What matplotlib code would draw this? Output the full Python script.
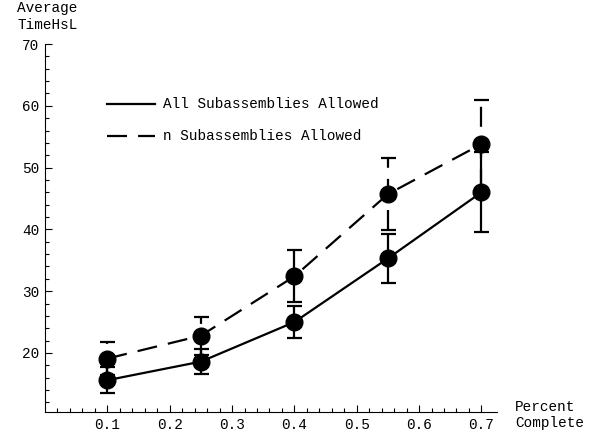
import numpy as np
import matplotlib
matplotlib.use("Agg")
import matplotlib.pyplot as plt

plt.rcParams['font.family'] = ['Liberation Mono', 'DejaVu Sans Mono']
plt.rcParams['font.size'] = 10.4

# data
pct = [0.1, 0.25, 0.4, 0.55, 0.7]
all_mean = [15.6, 18.6, 25.0, 35.3, 46.0]
all_err = [2.1, 2.0, 2.6, 4.0, 6.5]
n_mean = [19.1, 22.8, 32.4, 45.7, 53.8]
n_err = [2.7, 3.1, 4.2, 5.8, 7.2]
labels = ['All Subassemblies Allowed', 'n Subassemblies Allowed']

fig = plt.figure(figsize=(5.95, 4.32), dpi=100)
ax = fig.add_axes([45/595, 1-412/432, (497-45)/595, (412-44)/432])

dash = (0, (9, 5))

# solid series
ax.plot(pct, all_mean, color='black', lw=1.6, zorder=2)
eb1 = ax.errorbar(pct, all_mean, yerr=all_err, fmt='none', ecolor='black',
                  elinewidth=1.6, capsize=5.4, capthick=1.6, zorder=2)

# dashed series
ax.plot(pct, n_mean, color='black', lw=1.6, ls=dash, zorder=2)
eb2 = ax.errorbar(pct, n_mean, yerr=n_err, fmt='none', ecolor='black',
                  elinewidth=1.6, capsize=5.4, capthick=1.6, zorder=2)
eb2[2][0].set_linestyle(dash)

ax.plot(pct, all_mean, 'o', color='black', ms=12, zorder=3)
ax.plot(pct, n_mean, 'o', color='black', ms=12, zorder=3)

# legend drawn by hand
lx0, lx1 = 107/595, 155/595
fig.add_artist(plt.Line2D([lx0, lx1], [1-104/432]*2, color='black', lw=1.6))
fig.add_artist(plt.Line2D([lx0, lx1], [1-136/432]*2, color='black', lw=1.6, ls=dash))
fig.text(163/595, 1-104/432, labels[0], va='center', ha='left')
fig.text(163/595, 1-136/432, labels[1], va='center', ha='left')

ax.set_xlim(0, 0.725)
ax.set_ylim(10.45, 70)
for s in ['top', 'right']:
    ax.spines[s].set_visible(False)
ax.spines['left'].set_bounds(10.45, 70)
ax.spines['left'].set_linewidth(0.8)
ax.spines['bottom'].set_linewidth(0.8)

ax.set_xticks([0.1, 0.2, 0.3, 0.4, 0.5, 0.6, 0.7])
ax.set_xticklabels(['0.1', '0.2', '0.3', '0.4', '0.5', '0.6', '0.7'])
ax.set_xticks(np.arange(0.02, 0.72, 0.02), minor=True)
ax.set_yticks([20, 30, 40, 50, 60, 70])
ax.set_yticks(np.arange(12, 70, 2), minor=True)
ax.tick_params(which='both', direction='in', width=0.8)
ax.tick_params(which='major', length=5, pad=4)
ax.tick_params(which='minor', length=3)

fig.text(17/595, 1-1/432, 'Average\nTimeHsL', va='top', ha='left', linespacing=1.3)
fig.text(515/595, 1-415/432, 'Percent\nComplete', va='center', ha='left', linespacing=1.2)

fig.savefig('out.png', dpi=100)
